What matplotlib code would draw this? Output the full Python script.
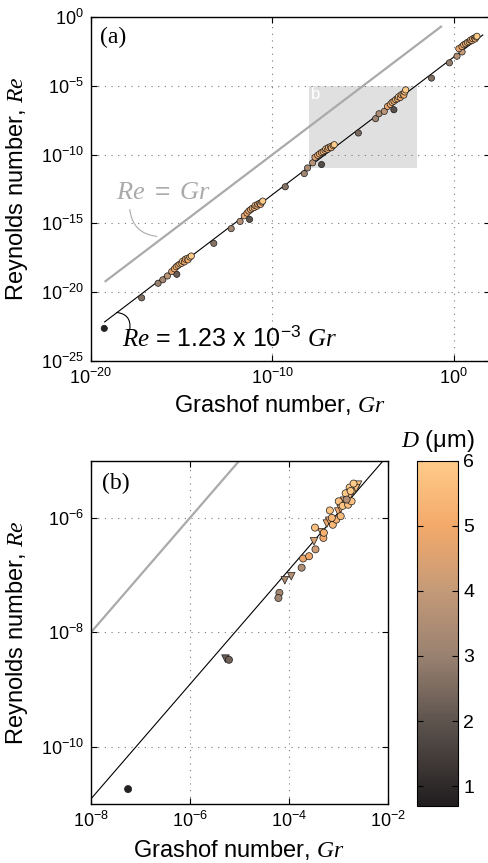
import numpy as np
import matplotlib
matplotlib.use('Agg')
import matplotlib.pyplot as plt
from matplotlib.colors import LinearSegmentedColormap, Normalize
from matplotlib.ticker import FixedLocator, FuncFormatter, NullLocator
from matplotlib.patches import Rectangle
import matplotlib.cm as cm

plt.rcParams['font.family'] = 'Liberation Sans'
plt.rcParams['mathtext.fontset'] = 'custom'
plt.rcParams['mathtext.rm'] = 'Liberation Sans'
plt.rcParams['mathtext.sf'] = 'Liberation Sans'
plt.rcParams['mathtext.it'] = 'Liberation Serif:italic'

# ---- data (log10 values) ----
# panel (a): all datasets
a_loggr = [-19.27, -17.21, -16.30, -16.04, -15.79, -15.27,
           -15.55, -15.40, -15.30, -15.20, -15.10, -15.00, -14.95, -14.85, -14.80, -14.70, -14.65, -14.55, -14.47,
           -13.23, -12.27, -11.78, -11.26,
           -11.55, -11.40, -11.30, -11.20, -11.10, -11.00, -10.95, -10.85, -10.80, -10.70, -10.65, -10.58, -10.53,
           -9.29, -8.24, -8.06, -7.78, -7.29,
           -7.65, -7.50, -7.40, -7.30, -7.20, -7.10, -7.05, -6.95, -6.90, -6.80, -6.75, -6.65, -6.59,
           -5.26, -4.31, -4.12, -3.83, -3.30,
           -3.65, -3.50, -3.40, -3.30, -3.20, -3.10, -3.05, -2.95, -2.90, -2.80, -2.75, -2.70, -2.65,
           -1.23, -0.24, 0.18, 0.46,
           0.28, 0.45, 0.55, 0.65, 0.75, 0.85, 0.92, 1.00, 1.05, 1.15, 1.18, 1.24, 1.28]
a_logre = [-22.63, -20.41, -19.35, -19.10, -18.82, -18.70,
           -18.50, -18.30, -18.15, -18.05, -17.95, -17.90, -17.75, -17.80, -17.60, -17.55, -17.65, -17.45, -17.37,
           -16.45, -15.38, -14.86, -14.71,
           -14.45, -14.25, -14.10, -14.00, -13.90, -13.85, -13.70, -13.75, -13.60, -13.55, -13.62, -13.45, -13.38,
           -12.34, -11.38, -10.97, -10.60, -10.72,
           -10.20, -10.05, -9.95, -9.85, -9.78, -9.70, -9.58, -9.62, -9.48, -9.42, -9.50, -9.35, -9.28,
           -8.43, -7.39, -7.03, -6.86, -6.74,
           -6.50, -6.35, -6.20, -6.12, -6.00, -5.95, -5.80, -5.85, -5.65, -5.60, -5.68, -5.45, -5.30,
           -4.44, -3.33, -2.85, -2.54,
           -2.30, -2.15, -2.02, -1.95, -1.85, -1.80, -1.68, -1.72, -1.58, -1.52, -1.60, -1.46, -1.40]
a_d = [0.8, 2.6, 3.0, 3.3, 3.8, 2.2,
       4.5, 5.0, 5.3, 4.8, 5.6, 5.2, 5.8, 4.9, 5.5, 5.9, 5.1, 5.7, 6.0,
       2.7, 3.2, 3.6, 2.0,
       4.6, 5.0, 5.3, 4.8, 5.6, 5.2, 5.8, 4.9, 5.5, 5.9, 5.1, 5.7, 6.0,
       2.7, 3.2, 3.4, 3.7, 1.8,
       4.5, 5.0, 5.3, 4.8, 5.6, 5.2, 5.8, 4.9, 5.5, 5.9, 5.1, 5.7, 6.0,
       2.5, 3.1, 3.4, 3.8, 1.9,
       4.8, 5.0, 5.5, 4.7, 5.6, 5.2, 5.8, 4.9, 5.5, 5.9, 5.1, 5.7, 6.0,
       2.6, 2.9, 3.6, 4.0,
       4.8, 5.0, 5.5, 4.7, 5.6, 5.2, 5.8, 4.9, 5.5, 5.9, 5.1, 5.7, 6.0]

# panel (b): circles
b_circ_loggr = [-7.25, -5.21, -4.19, -4.21, -3.74, -3.71, -3.59, -3.46, -3.30, -3.47, -3.29, -3.17,
                -3.11, -3.04, -2.99, -2.95, -2.91, -2.85, -2.80, -2.77, -2.73, -2.69, -2.75, -2.83, -3.13]
b_circ_logre = [-10.74, -8.48, -7.31, -7.40, -6.87, -6.71, -6.67, -6.55, -6.35, -6.17, -6.26, -5.87,
                -6.12, -6.03, -5.71, -5.97, -5.79, -5.57, -5.77, -5.47, -5.71, -5.40, -5.53, -5.68, -6.00]
b_circ_d = [0.8, 2.3, 3.3, 3.2, 3.5, 4.8, 4.9, 4.2, 5.0, 5.6, 5.2, 5.8,
            5.4, 5.3, 5.7, 5.5, 5.8, 5.9, 5.6, 6.0, 5.7, 6.0, 5.9, 3.6, 5.4]
# panel (b): triangles
b_tri_loggr = [-5.28, -4.08, -3.95, -3.49, -3.34, -3.23, -3.18, -3.00, -2.95, -2.88, -2.78, -2.68, -2.60, -2.64]
b_tri_logre = [-8.46, -7.09, -7.02, -6.41, -6.25, -6.10, -6.05, -5.89, -5.84, -5.70, -5.64, -5.53, -5.42, -5.48]
b_tri_d = [2.2, 3.4, 3.6, 4.4, 4.7, 4.8, 5.0, 5.1, 5.2, 5.3, 5.5, 5.6, 5.7, 5.6]

fit_coef = 1.23e-3
d_ticks = [1, 2, 3, 4, 5, 6]

# colormap: black -> grey-brown -> orange -> light peach
cvals = [0.7, 1, 2, 3, 4, 5, 6]
ccols = ['#221e1f', '#2e2a2a', '#5e544e', '#998170', '#c49a78', '#f3a96a', '#ffcb89']
norm = Normalize(0.7, 6)
cmap = LinearSegmentedColormap.from_list('dcmap', [((v - 0.7) / 5.3, c) for v, c in zip(cvals, ccols)])

fmt = FuncFormatter(lambda v, p: r'$\mathdefault{10^{%d}}$' % int(round(np.log10(v))))


def style_ax(ax, xt, yt):
    ax.set_xscale('log')
    ax.set_yscale('log')
    ax.xaxis.set_major_locator(FixedLocator(xt))
    ax.yaxis.set_major_locator(FixedLocator(yt))
    ax.xaxis.set_minor_locator(NullLocator())
    ax.yaxis.set_minor_locator(NullLocator())
    ax.xaxis.set_major_formatter(fmt)
    ax.yaxis.set_major_formatter(fmt)
    ax.tick_params(direction='in', top=True, right=True, length=4, width=0.8, labelsize=13, pad=5)
    ax.grid(True, color='#777777', linestyle=(0, (1, 5)), linewidth=0.8)
    ax.set_axisbelow(True)
    for s in ax.spines.values():
        s.set_linewidth(1.0)


fig = plt.figure(figsize=(4.89, 8.63), dpi=100)

# ---------------- panel (a) ----------------
ax1 = fig.add_axes([0.1861, 0.5817, 0.8160, 0.3986])
ax1.set_xlim(1e-20, 1e2)
ax1.set_ylim(1e-25, 1e0)
style_ax(ax1, [1e-20, 1e-10, 1e0], [1e-25, 1e-20, 1e-15, 1e-10, 1e-5, 1e0])

ax1.add_patch(Rectangle((1e-8, 1e-11), 1e-2 - 1e-8, 1e-5 - 1e-11, facecolor='#e0e0e0',
                        edgecolor='none', zorder=0.2))
ax1.text(10**-7.87, 10**-5.1, 'b', color='white', fontsize=12, ha='left', va='top')

g1 = np.logspace(-19.2, -0.7, 2)
ax1.plot(g1, g1, color='#aaaaaa', lw=1.6, zorder=2)
g2 = np.logspace(-19.25, 1.6, 2)
ax1.plot(g2, fit_coef * g2, color='black', lw=0.8, zorder=2)

ax1.scatter(10**np.array(a_loggr), 10**np.array(a_logre), c=a_d, cmap=cmap, norm=norm, s=20,
            edgecolors='#1a1a1a', linewidths=0.5, zorder=3)

ax1.text(0.022, 0.972, '(a)', transform=ax1.transAxes, fontsize=17, family='Liberation Serif',
         ha='left', va='top')
ax1.text(10**-16.0, 10**-12.75, r'$Re\ =\ Gr$', color='#aaaaaa', fontsize=19, ha='center', va='center')
ax1.annotate('', xy=(10**-16.37, 10**-15.94), xytext=(10**-17.86, 10**-13.99),
             arrowprops=dict(arrowstyle='-', color='#aaaaaa', lw=0.8,
                             connectionstyle='arc3,rad=0.4', shrinkA=0, shrinkB=0))
ax1.text(10**-18.3, 10**-23.35, r'$Re$ = 1.23 x 10$^{-3}$ $Gr$', fontsize=18, ha='left', va='center')
ax1.annotate('', xy=(10**-18.59, 10**-21.47), xytext=(10**-17.86, 10**-22.68),
             arrowprops=dict(arrowstyle='-', color='black', lw=0.8,
                             connectionstyle='arc3,rad=0.5', shrinkA=0, shrinkB=0))

ax1.set_xlabel(r'Grashof number, $Gr$', fontsize=17)
ax1.set_ylabel(r'Reynolds number, $Re$', fontsize=17)
ax1.xaxis.set_label_coords(0.474, -0.094)
ax1.yaxis.set_label_coords(-0.153, 0.5)

# ---------------- panel (b) ----------------
ax2 = fig.add_axes([0.1861, 0.0684, 0.6067, 0.3978])
ax2.set_xlim(1e-8, 1e-2)
ax2.set_ylim(1e-11, 1e-5)
style_ax(ax2, [1e-8, 1e-6, 1e-4, 1e-2], [1e-10, 1e-8, 1e-6])

g3 = np.logspace(-8, -2, 2)
ax2.plot(g3, g3, color='#aaaaaa', lw=1.6, zorder=2)
ax2.plot(g3, fit_coef * g3, color='black', lw=0.8, zorder=2)

ax2.scatter(10**np.array(b_tri_loggr), 10**np.array(b_tri_logre), c=b_tri_d, cmap=cmap, norm=norm,
            marker='v', s=30, edgecolors='#1a1a1a', linewidths=0.5, zorder=3)
ax2.scatter(10**np.array(b_circ_loggr), 10**np.array(b_circ_logre), c=b_circ_d, cmap=cmap, norm=norm,
            marker='o', s=26, edgecolors='#1a1a1a', linewidths=0.5, zorder=3)

ax2.text(0.036, 0.964, '(b)', transform=ax2.transAxes, fontsize=17, family='Liberation Serif',
         ha='left', va='top')
ax2.set_xlabel(r'Grashof number, $Gr$', fontsize=17)
ax2.set_ylabel(r'Reynolds number, $Re$', fontsize=17)
ax2.xaxis.set_label_coords(0.5, -0.1)
ax2.yaxis.set_label_coords(-0.206, 0.5)

# ---------------- colorbar ----------------
cax = fig.add_axes([0.8534, 0.0664, 0.0826, 0.3998])
sm = cm.ScalarMappable(norm=norm, cmap=cmap)
cb = fig.colorbar(sm, cax=cax, ticks=d_ticks)
cb.ax.tick_params(direction='in', left=True, right=True, length=4, width=0.8, labelsize=14, pad=4)
cb.outline.set_linewidth(0.8)
cax.set_title(r'$D$ (μm)', fontsize=17, pad=10)

fig.savefig('out.png', dpi=100)
